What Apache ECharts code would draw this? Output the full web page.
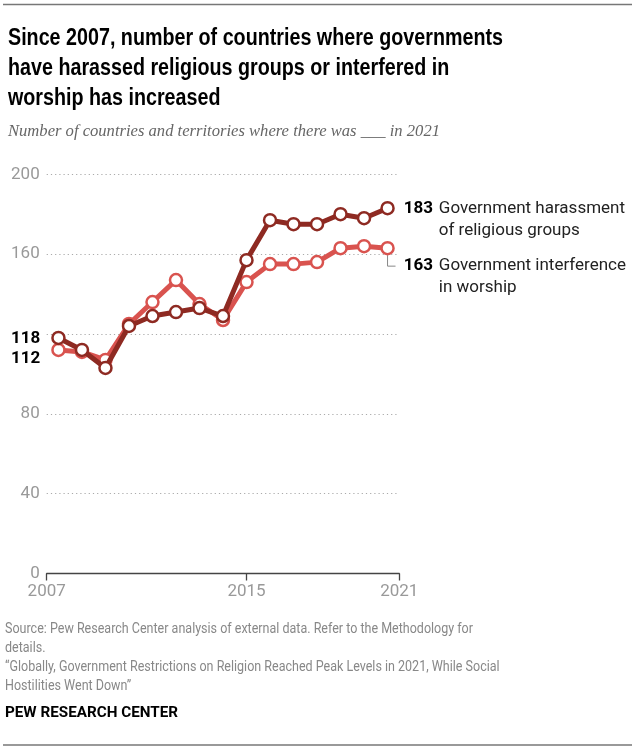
<!DOCTYPE html>
<html>
<head>
<meta charset="utf-8">
<script src="https://cdn.jsdelivr.net/npm/echarts@6/dist/echarts.min.js"></script>
<style>
html,body{margin:0;padding:0;background:#fff;}
#c{width:639px;height:749px;}
</style>
</head>
<body>
<div id="c"></div>
<script>
const years = [2007,2008,2009,2010,2011,2012,2013,2014,2015,2016,2017,2018,2019,2020,2021];
const harassment = [118,112,103,124,129,131,133,129,157,177,175,175,180,178,183];
const interference = [112,111,107,125,136,147,135,127,146,155,155,156,163,164,163];
const yTicks = [0,40,80,120,160,200];
const xTickLabels = ['2007','2015','2021'];
const harassLabel = ['Government harassment','of religious groups'];
const interfLabel = ['Government interference','in worship'];

const DARK = '#8E2A22';
const LIGHT = '#D9534F';
const SANS = "Roboto,'Liberation Sans',sans-serif";

// measurement helper for horizontally condensing text to the reference widths
const mctx = document.createElement('canvas').getContext('2d');
function fitScale(font, text, target){ mctx.font = font; return target / mctx.measureText(text).width; }

const chart = echarts.init(document.getElementById('c'), null, {renderer:'canvas'});

// x axis spans half a year beyond first and last data year
const xMin = years[0] - 0.5, xMax = years[years.length-1] + 0.5;
const xTickVals = [xMin, Number(xTickLabels[1]), xMax];

function seriesData(vals, firstLabel, lastLabel){
  return vals.map((v,i)=>{
    const item = {value:[years[i], v]};
    if(i===0) item.label = firstLabel;
    if(i===vals.length-1) item.label = lastLabel;
    return item;
  });
}

const leftLabelBase = {show:true, position:'left', distance:11, color:'#000', fontWeight:'bold', fontSize:17, fontFamily:SANS};
const rightRich = {
  v:{fontWeight:'bold', fontSize:17, color:'#000', fontFamily:SANS, width:35, lineHeight:22},
  t:{fontSize:17, color:'#222', fontFamily:SANS, lineHeight:22}
};

const option = {
  animation:false,
  grid:{left:46.7, right:639-399.3, top:174.3, bottom:749-573.5, containLabel:false},
  xAxis:{
    type:'value', min:xMin, max:xMax,
    axisLine:{show:true, lineStyle:{color:'#444', width:1.3}},
    axisTick:{show:true, length:7, lineStyle:{color:'#444', width:1.3}, customValues:xTickVals},
    axisLabel:{customValues:xTickVals, color:'#999', fontSize:17, fontFamily:SANS, margin:10,
      formatter:(v)=>{ const k = xTickVals.indexOf(v); return k>=0 ? xTickLabels[k] : ''; },
      showMinLabel:true, showMaxLabel:true},
    splitLine:{show:false}
  },
  yAxis:{
    type:'value', min:yTicks[0], max:yTicks[yTicks.length-1], interval:40,
    axisLine:{show:false}, axisTick:{show:false},
    axisLabel:{color:'#999', fontSize:17, fontFamily:SANS, margin:7,
      formatter:v=> v===120 ? '' : String(v)},
    splitLine:{show:true, lineStyle:{color:'#aaa', type:[1.2,3], width:1.2}}
  },
  series:[
    {
      name:'Government interference in worship', type:'line', data:seriesData(interference,
        Object.assign({}, leftLabelBase, {offset:[0,9]}),
        {show:true, position:'right', distance:9, offset:[0,18 + 11],
          formatter:'{v|'+interference[interference.length-1]+'}{t|'+interfLabel[0]+'}\n{v|}{t|'+interfLabel[1]+'}', rich:rightRich}
      ),
      lineStyle:{color:LIGHT, width:5}, itemStyle:{color:'#fff', borderColor:LIGHT, borderWidth:2.5},
      symbol:'circle', symbolSize:12, showSymbol:true, z:2
    },
    {
      name:'Government harassment of religious groups', type:'line', data:seriesData(harassment,
        Object.assign({}, leftLabelBase, {offset:[0,1]}),
        {show:true, position:'right', distance:9, offset:[0,12],
          formatter:'{v|'+harassment[harassment.length-1]+'}{t|'+harassLabel[0]+'}\n{v|}{t|'+harassLabel[1]+'}', rich:rightRich}
      ),
      lineStyle:{color:DARK, width:5}, itemStyle:{color:'#fff', borderColor:DARK, borderWidth:2.5},
      symbol:'circle', symbolSize:12, showSymbol:true, z:3
    }
  ]
};
chart.setOption(option);

// connector for interference label, computed from data position
const lastIdx = years.length-1;
const p = chart.convertToPixel({gridIndex:0}, [years[lastIdx], interference[lastIdx]]);
const cy0 = p[1]+7, cy1 = p[1]+18;

const titleText = 'Since 2007, number of countries where governments\nhave harassed religious groups or interfered in\nworship has increased';
const titleFont = "bold 23px 'Liberation Sans',Arial,sans-serif";
const subText = 'Number of countries and territories where there was ___ in 2021';
const subFont = "italic 16px 'Liberation Serif','DejaVu Serif',serif";
const srcText = 'Source: Pew Research Center analysis of external data. Refer to the Methodology for\ndetails.\n\u201cGlobally, Government Restrictions on Religion Reached Peak Levels in 2021, While Social\nHostilities Went Down\u201d';
const srcFont = "14px Roboto,'Liberation Sans',sans-serif";
const pewText = 'PEW RESEARCH CENTER';
const pewFont = "bold 14px Roboto,'Liberation Sans',sans-serif";

chart.setOption({
  graphic:[
    {type:'line', shape:{x1:3,y1:4.5,x2:632,y2:4.5}, style:{stroke:'#777', lineWidth:1.5}},
    {type:'text', x:8, y:24, scaleX:fitScale(titleFont, 'Since 2007, number of countries where governments', 495),
      style:{text:titleText, font:titleFont, fill:'#000', lineHeight:30, textVerticalAlign:'top'}},
    {type:'text', x:8, y:124, scaleX:fitScale(subFont, subText, 432),
      style:{text:subText, font:subFont, fill:'#666', textVerticalAlign:'top'}},
    {type:'polyline', shape:{points:[[p[0],cy0],[p[0],cy1],[p[0]+8,cy1]]}, style:{stroke:'#888', lineWidth:1, fill:null}},
    {type:'text', x:5, y:620, scaleX:fitScale(srcFont, 'Source: Pew Research Center analysis of external data. Refer to the Methodology for', 468),
      style:{text:srcText, font:srcFont, fill:'#888', lineHeight:19, textVerticalAlign:'top'}},
    {type:'text', x:5, y:706, scaleX:fitScale(pewFont, pewText, 173),
      style:{text:pewText, font:pewFont, fill:'#000', textVerticalAlign:'top'}},
    {type:'line', shape:{x1:3,y1:745,x2:632,y2:745}, style:{stroke:'#777', lineWidth:1.5}}
  ]
});
</script>
</body>
</html>
